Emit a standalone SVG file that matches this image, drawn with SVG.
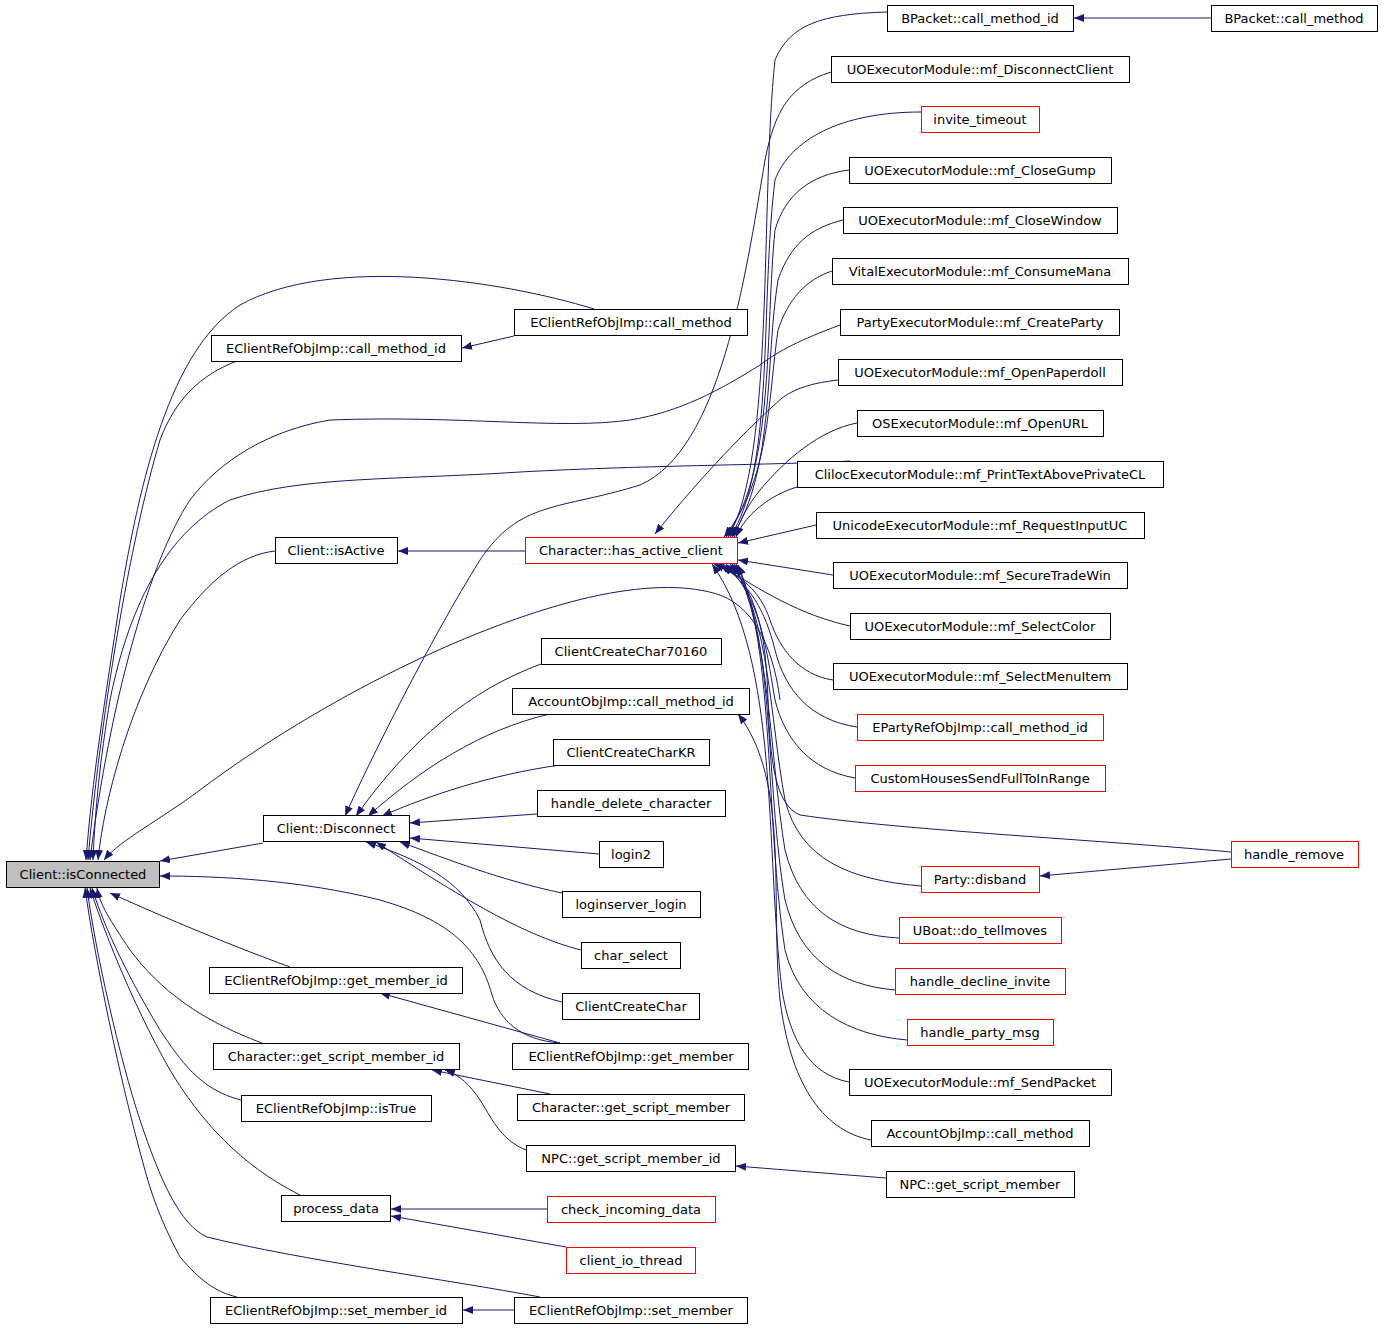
<svg xmlns="http://www.w3.org/2000/svg" width="1384" height="1329" viewBox="0 0 1384 1329">
<style>
rect{fill:#fff;stroke:#000;stroke-width:1}
.r rect{stroke:#f00}
.root rect{fill:#bfbfbf}
text{font-family:"DejaVu Sans",sans-serif;font-size:13px;text-anchor:middle;fill:#000}
.e path{fill:none;stroke:#191970;stroke-width:1;marker-end:url(#a)}
</style>
<defs>
<marker id="a" viewBox="0 0 10 8" refX="10" refY="4" markerWidth="10" markerHeight="8" markerUnits="userSpaceOnUse" orient="auto">
<path d="M0,0 L10,4 L0,8 z" fill="#191970"/>
</marker>
</defs>
<g class="e">
<!-- into isConnected -->
<path d="M594,309 C500,280 330,255 240,305 C170,350 140,480 120,600 C105,700 92,780 86,860"/>
<path d="M237,361 C200,375 175,400 160,440 C130,540 100,720 88,860"/>
<path d="M840,325 C800,340 780,350 760,365 C720,390 680,412 630,420 C560,430 460,415 330,420 C270,430 220,460 190,500 C150,560 110,700 90,860"/>
<path d="M850,461 C780,465 650,465 520,472 C400,480 300,476 230,500 C170,530 130,600 110,700 C100,760 95,810 93,860"/>
<path d="M275,551 C240,555 210,580 180,620 C130,700 104,800 98,860"/>
<path d="M780,700 C775,660 760,610 720,595 C690,585 650,585 600,595 C480,620 320,700 200,790 C160,820 120,840 104,860"/>
<path d="M263,843 L160,861"/>
<path d="M560,1043 C520,1040 500,1020 492,995 C480,950 450,920 380,900 C300,880 220,876 160,876"/>
<path d="M290,967 C230,945 170,920 110,893"/>
<path d="M262,1043 C200,1020 160,990 130,950 C110,920 100,905 97,888"/>
<path d="M241,1100 C200,1090 180,1060 160,1030 C130,980 105,930 92,888"/>
<path d="M300,1195 C240,1165 200,1120 170,1070 C130,1000 100,920 90,888"/>
<path d="M540,1297 C450,1280 300,1260 207,1237 C180,1225 160,1180 140,1120 C120,1060 95,950 87,888"/>
<path d="M237,1297 C215,1292 200,1280 180,1257 C160,1220 150,1190 143,1163 C120,1080 95,960 85,888"/>
<!-- others -->
<path d="M525,551 L398,551"/>
<path d="M514,336 L462,348"/>
<path d="M1211,18 L1074,18"/>
<path d="M1231,859 L1040,876"/>
<path d="M514,1310 L463,1310"/>
<path d="M547,1209 L391,1209"/>
<path d="M566,1247 L391,1216"/>
<path d="M886,1178 L736,1166"/>
<path d="M560,1043 L380,993"/>
<path d="M550,1094 L432,1070"/>
<path d="M526,1150 C500,1140 490,1115 480,1100 C470,1085 460,1075 445,1070"/>
<path d="M871,1140 C820,1130 790,1080 780,1000 C770,900 790,780 738,714"/>
<!-- into Disconnect -->
<path d="M541,664 C470,690 410,740 356,816"/>
<path d="M550,714 C480,730 420,770 368,816"/>
<path d="M560,765 C490,775 430,795 382,816"/>
<path d="M537,814 L410,823"/>
<path d="M599,854 L410,838"/>
<path d="M562,893 C500,880 450,860 400,842"/>
<path d="M581,950 C520,935 450,890 376,842"/>
<path d="M562,1002 C510,990 490,960 480,920 C460,880 420,860 366,842"/>
<path d="M831,72 C790,85 775,110 765,160 C745,280 720,450 640,485 C560,510 520,500 480,560 C430,640 370,760 345,816"/>
<!-- into has_active_client from above -->
<path d="M887,12 C820,14 790,25 775,60 C760,200 775,460 728,537"/>
<path d="M921,112 C840,112 790,140 775,180 C760,300 775,470 730,537"/>
<path d="M849,170 C810,175 785,195 775,230 C765,330 775,470 726,537"/>
<path d="M843,220 C810,228 790,245 778,280 C765,360 775,470 732,537"/>
<path d="M832,271 C805,280 788,300 778,330 C768,400 770,480 724,537"/>
<path d="M838,380 C812,383 796,388 782,398 C740,435 690,490 655,534"/>
<path d="M857,423 C820,430 785,460 760,490 C748,505 740,520 734,537"/>
<path d="M797,487 C770,495 745,515 736,537"/>
<path d="M816,525 L738,543"/>
<path d="M833,575 L738,560"/>
<!-- into has_active_client from below -->
<path d="M850,626 C800,615 760,590 722,566"/>
<path d="M833,680 C800,675 780,650 770,620 C760,590 740,575 714,564"/>
<path d="M857,727 C810,720 785,690 775,650 C765,610 750,585 720,564"/>
<path d="M855,778 C810,770 785,740 775,700 C765,640 760,600 726,564"/>
<path d="M1231,852 C1100,840 900,830 800,815 C775,805 770,760 768,700 C766,640 760,600 730,564"/>
<path d="M921,886 C850,880 800,860 785,800 C770,720 770,620 732,564"/>
<path d="M899,938 C840,935 800,910 785,850 C770,760 770,630 734,564"/>
<path d="M895,990 C840,985 800,960 785,900 C765,780 775,640 736,564"/>
<path d="M907,1040 C850,1035 800,1010 785,950 C765,820 775,650 738,565"/>
<path d="M849,1082 C810,1075 790,1040 782,990 C765,850 780,660 712,564"/>
</g>
<g id="n_isConnected" class="root"><rect x="6.5" y="861.5" width="153" height="26"/><text x="83" y="879">Client::isConnected</text></g>
<g id="n_ecr_call_method_id"><rect x="211.5" y="335.5" width="250" height="26"/><text x="336" y="353">EClientRefObjImp::call_method_id</text></g>
<g id="n_isActive"><rect x="275.5" y="537.5" width="122" height="26"/><text x="336" y="555">Client::isActive</text></g>
<g id="n_Disconnect"><rect x="263.5" y="815.5" width="146" height="26"/><text x="336" y="833">Client::Disconnect</text></g>
<g id="n_get_member_id"><rect x="209.5" y="967.5" width="253" height="26"/><text x="336" y="985">EClientRefObjImp::get_member_id</text></g>
<g id="n_char_gsmi"><rect x="213.5" y="1043.5" width="246" height="26"/><text x="336" y="1061">Character::get_script_member_id</text></g>
<g id="n_isTrue"><rect x="241.5" y="1095.5" width="190" height="26"/><text x="336" y="1113">EClientRefObjImp::isTrue</text></g>
<g id="n_process_data"><rect x="281.5" y="1195.5" width="109" height="26"/><text x="336" y="1213">process_data</text></g>
<g id="n_set_member_id"><rect x="210.5" y="1297.5" width="252" height="26"/><text x="336" y="1315">EClientRefObjImp::set_member_id</text></g>
<g id="n_ecr_call_method"><rect x="514.5" y="309.5" width="233" height="26"/><text x="631" y="327">EClientRefObjImp::call_method</text></g>
<g id="n_has_active_client" class="r"><rect x="525.5" y="537.5" width="212" height="26"/><text x="631" y="555">Character::has_active_client</text></g>
<g id="n_cc70160"><rect x="541.5" y="638.5" width="180" height="26"/><text x="631" y="656">ClientCreateChar70160</text></g>
<g id="n_acc_cmi"><rect x="512.5" y="688.5" width="237" height="26"/><text x="631" y="706">AccountObjImp::call_method_id</text></g>
<g id="n_cckr"><rect x="553.5" y="739.5" width="156" height="26"/><text x="631" y="757">ClientCreateCharKR</text></g>
<g id="n_hdc"><rect x="537.5" y="790.5" width="188" height="26"/><text x="631" y="808">handle_delete_character</text></g>
<g id="n_login2"><rect x="599.5" y="841.5" width="64" height="26"/><text x="631" y="859">login2</text></g>
<g id="n_lsl"><rect x="562.5" y="891.5" width="138" height="26"/><text x="631" y="909">loginserver_login</text></g>
<g id="n_char_select"><rect x="581.5" y="942.5" width="99" height="26"/><text x="631" y="960">char_select</text></g>
<g id="n_cc"><rect x="562.5" y="993.5" width="137" height="26"/><text x="631" y="1011">ClientCreateChar</text></g>
<g id="n_get_member"><rect x="512.5" y="1043.5" width="236" height="26"/><text x="631" y="1061">EClientRefObjImp::get_member</text></g>
<g id="n_char_gsm"><rect x="517.5" y="1094.5" width="227" height="26"/><text x="631" y="1112">Character::get_script_member</text></g>
<g id="n_npc_gsmi"><rect x="526.5" y="1145.5" width="209" height="26"/><text x="631" y="1163">NPC::get_script_member_id</text></g>
<g id="n_cid" class="r"><rect x="547.5" y="1196.5" width="168" height="26"/><text x="631" y="1214">check_incoming_data</text></g>
<g id="n_cit" class="r"><rect x="566.5" y="1247.5" width="129" height="26"/><text x="631" y="1265">client_io_thread</text></g>
<g id="n_set_member"><rect x="514.5" y="1297.5" width="233" height="26"/><text x="631" y="1315">EClientRefObjImp::set_member</text></g>
<g id="n_bp_cmi"><rect x="887.5" y="5.5" width="186" height="26"/><text x="980" y="23">BPacket::call_method_id</text></g>
<g id="n_dc"><rect x="831.5" y="56.5" width="298" height="26"/><text x="980" y="74">UOExecutorModule::mf_DisconnectClient</text></g>
<g id="n_it" class="r"><rect x="921.5" y="106.5" width="118" height="26"/><text x="980" y="124">invite_timeout</text></g>
<g id="n_cg"><rect x="849.5" y="157.5" width="262" height="26"/><text x="980" y="175">UOExecutorModule::mf_CloseGump</text></g>
<g id="n_cw"><rect x="843.5" y="207.5" width="274" height="26"/><text x="980" y="225">UOExecutorModule::mf_CloseWindow</text></g>
<g id="n_cm"><rect x="832.5" y="258.5" width="296" height="26"/><text x="980" y="276">VitalExecutorModule::mf_ConsumeMana</text></g>
<g id="n_cp"><rect x="840.5" y="309.5" width="279" height="26"/><text x="980" y="327">PartyExecutorModule::mf_CreateParty</text></g>
<g id="n_op"><rect x="838.5" y="359.5" width="284" height="26"/><text x="980" y="377">UOExecutorModule::mf_OpenPaperdoll</text></g>
<g id="n_ou"><rect x="857.5" y="410.5" width="246" height="26"/><text x="980" y="428">OSExecutorModule::mf_OpenURL</text></g>
<g id="n_pt"><rect x="797.5" y="461.5" width="366" height="26"/><text x="980" y="479">ClilocExecutorModule::mf_PrintTextAbovePrivateCL</text></g>
<g id="n_ri"><rect x="816.5" y="512.5" width="328" height="26"/><text x="980" y="530">UnicodeExecutorModule::mf_RequestInputUC</text></g>
<g id="n_st"><rect x="833.5" y="562.5" width="294" height="26"/><text x="980" y="580">UOExecutorModule::mf_SecureTradeWin</text></g>
<g id="n_sc"><rect x="850.5" y="613.5" width="260" height="26"/><text x="980" y="631">UOExecutorModule::mf_SelectColor</text></g>
<g id="n_sm"><rect x="833.5" y="663.5" width="294" height="26"/><text x="980" y="681">UOExecutorModule::mf_SelectMenuItem</text></g>
<g id="n_ep" class="r"><rect x="857.5" y="714.5" width="246" height="26"/><text x="980" y="732">EPartyRefObjImp::call_method_id</text></g>
<g id="n_ch" class="r"><rect x="855.5" y="765.5" width="250" height="26"/><text x="980" y="783">CustomHousesSendFullToInRange</text></g>
<g id="n_pd" class="r"><rect x="921.5" y="866.5" width="118" height="26"/><text x="980" y="884">Party::disband</text></g>
<g id="n_ub" class="r"><rect x="899.5" y="917.5" width="162" height="26"/><text x="980" y="935">UBoat::do_tellmoves</text></g>
<g id="n_hdi" class="r"><rect x="895.5" y="968.5" width="170" height="26"/><text x="980" y="986">handle_decline_invite</text></g>
<g id="n_hpm" class="r"><rect x="907.5" y="1019.5" width="146" height="26"/><text x="980" y="1037">handle_party_msg</text></g>
<g id="n_sp"><rect x="849.5" y="1069.5" width="262" height="26"/><text x="980" y="1087">UOExecutorModule::mf_SendPacket</text></g>
<g id="n_acc_cm"><rect x="871.5" y="1120.5" width="218" height="26"/><text x="980" y="1138">AccountObjImp::call_method</text></g>
<g id="n_npc_gsm"><rect x="886.5" y="1171.5" width="188" height="26"/><text x="980" y="1189">NPC::get_script_member</text></g>
<g id="n_bp_cm"><rect x="1211.5" y="5.5" width="166" height="26"/><text x="1294" y="23">BPacket::call_method</text></g>
<g id="n_hr" class="r"><rect x="1231.5" y="841.5" width="127" height="26"/><text x="1294" y="859">handle_remove</text></g>
</svg>
